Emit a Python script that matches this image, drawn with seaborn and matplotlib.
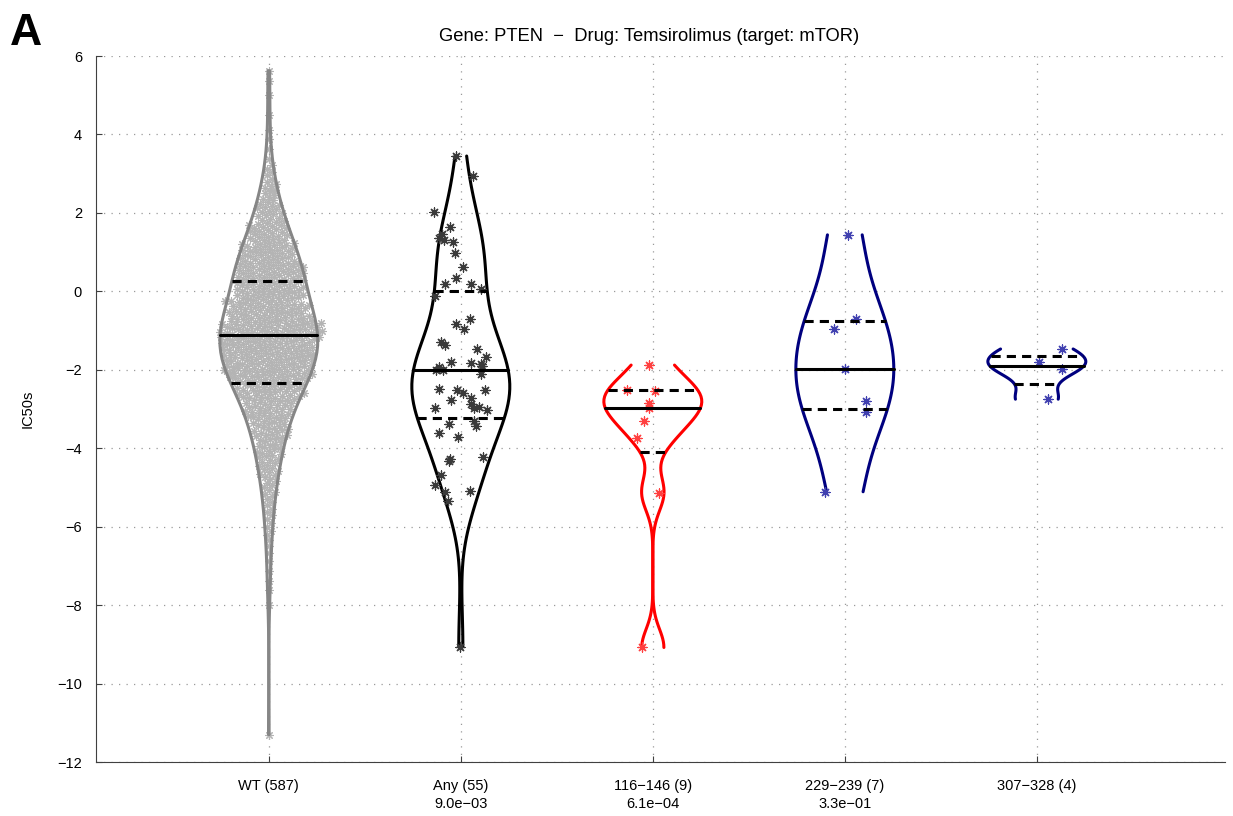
import numpy as np
import pandas as pd
import matplotlib
matplotlib.use("Agg")
import matplotlib.pyplot as plt
import seaborn as sns

groups = ["WT", "Any", "116-146", "229-239", "307-328"]
tick_labels = ["WT (587)", "Any (55)\n9.0e\u221203", "116\u2212146 (9)\n6.1e\u221204",
               "229\u2212239 (7)\n3.3e\u221201", "307\u2212328 (4)"]
line_colors = ["#868686", "#000000", "#ff0000", "#00007f", "#00007f"]
point_colors = ["#b4b4b4", "#3a3a3a", "#ff4040", "#4040b0", "#4040b0"]

# WT cloud is too dense to read point by point: counts per 0.5-wide bin
wt_bin_centres = [-11.3, -8.0, -7.5, -7.0, -6.5, -6.0, -5.5, -5.0, -4.5, -4.0, -3.5, -3.0,
                  -2.5, -2.0, -1.5, -1.0, -0.5, 0.0, 0.5, 1.0, 1.5, 2.0, 2.5, 3.0, 3.5,
                  4.0, 4.5, 5.0, 5.5]
wt_bin_counts = [1, 1, 2, 2, 3, 5, 6, 9, 13, 17, 23, 30,
                 42, 58, 62, 66, 52, 46, 45, 36, 26, 17, 11, 6, 2,
                 2, 1, 1, 2]

any_ic50 = [3.45, 2.95, 2.03, 1.63, 1.45, 1.35, 1.32, 1.27, 0.99, 0.63, 0.33, 0.18, 0.18, 0.06, -0.12,
            -0.71, -0.84, -0.97, -1.30, -1.37, -1.47, -1.68, -1.81, -1.82, -1.85, -1.90, -1.92, -2.01,
            -2.01, -2.12, -2.49, -2.52, -2.52, -2.60, -2.73, -2.77, -2.86, -2.94, -2.97, -2.98, -3.03,
            -3.31, -3.39, -3.43, -3.62, -3.71, -4.22, -4.28, -4.33, -4.68, -4.94, -5.09, -5.12, -5.34,
            -9.06]
r116_146 = [-1.88, -2.52, -2.53, -2.84, -2.98, -3.31, -3.75, -5.13, -9.08]
r229_239 = [1.44, -0.70, -0.97, -1.99, -2.80, -3.07, -5.11]
r307_328 = [-1.47, -1.81, -1.98, -2.75]

# spread each WT bin's count evenly across the bin
wt_ic50 = np.concatenate([c + (np.arange(n) + 0.5) / n * 0.5 - 0.25
                          for c, n in zip(wt_bin_centres, wt_bin_counts)])

values = [wt_ic50, any_ic50, r116_146, r229_239, r307_328]
df = pd.concat([pd.DataFrame({"group": g, "ic50": v}) for g, v in zip(groups, values)],
               ignore_index=True)

sns.set_style("ticks")
plt.rcParams['font.family'] = ['Liberation Sans', 'DejaVu Sans']
plt.rcParams['font.size'] = 10
for k in ['text.color', 'axes.labelcolor', 'xtick.color', 'ytick.color']:
    plt.rcParams[k] = 'black'

fig = plt.figure(figsize=(12.33, 8.16), dpi=100)
ax = fig.add_axes([96 / 1233, 1 - 762 / 816, (1225 - 96) / 1233, (762 - 56) / 816])

lw = 2.2
wt_points = None
for i, g in enumerate(groups):
    sub = df[df.group == g]
    v = sub.ic50.to_numpy()
    # matlab ksdensity default bandwidth (robust normal rule)
    sig = np.median(np.abs(v - np.median(v))) / 0.6745
    bw = sig * (4 / (3 * len(v))) ** 0.2
    n0 = len(ax.collections)
    sns.violinplot(data=sub, x="group", y="ic50", order=groups, ax=ax, fill=False, inner=None,
                   cut=0, density_norm="width", width=0.51, bw_method=bw / np.std(v, ddof=1),
                   color=line_colors[i], linewidth=lw)
    coll = ax.collections[n0]
    verts = coll.get_paths()[0].vertices
    coll.remove()
    left = verts[verts[:, 0] < i]
    right = verts[verts[:, 0] > i]
    left = left[np.argsort(left[:, 1])]
    right = right[np.argsort(right[:, 1])]
    # open-ended outline, like the original
    ax.plot(left[:, 0], left[:, 1], color=line_colors[i], lw=lw, zorder=3)
    ax.plot(right[:, 0], right[:, 1], color=line_colors[i], lw=lw, zorder=3)

    # points
    if g == "WT":
        n0 = len(ax.collections)
        sns.swarmplot(data=sub, x="group", y="ic50", order=groups, ax=ax, color=point_colors[i],
                      size=3.1, marker=(8, 2, 0), linewidth=0.8, zorder=2)
        wt_points = ax.collections[n0]
    else:
        np.random.seed(i)
        sns.stripplot(data=sub, x="group", y="ic50", order=groups, ax=ax, color=point_colors[i],
                      jitter=0.14, size=6.5, marker=(8, 2, 0), linewidth=0.9, zorder=4)

    # median solid, quartiles dashed (matlab-style percentiles)
    qs = np.percentile(v, [25, 50, 75], method="hazen")
    for k, q in enumerate(qs):
        xl = np.interp(q, left[:, 1], left[:, 0])
        xr = np.interp(q, right[:, 1], right[:, 0])
        if k == 1:
            ax.plot([xl, xr], [q, q], color="black", lw=lw, zorder=5)
        else:
            ax.plot([xl, xr], [q, q], color="black", lw=lw, dashes=(3, 2), zorder=5)

ax.set_xlim(-0.9, 4.98)
ax.set_ylim(-12, 6)
ax.set_yticks(np.arange(-12, 7, 2))
ax.set_xticks(range(len(groups)))
ax.set_xticklabels(tick_labels, linespacing=1.35)
ax.set_xlabel("")
ax.set_ylabel("IC50s", fontsize=10.5, labelpad=16)
ax.set_title("Gene: PTEN  \u2212  Drug: Temsirolimus (target: mTOR)", fontsize=13.2, pad=11, x=0.49)

ax.grid(True, linestyle=(0, (1, 5)), color="#9a9a9a", lw=0.9)
ax.set_axisbelow(True)
ax.tick_params(direction="in", length=4, width=0.8, color="#404040", labelsize=10.5)
ax.tick_params(axis="x", pad=12)
ax.tick_params(axis="y", pad=10)
for s in ["top", "right"]:
    ax.spines[s].set_visible(False)
for s in ["left", "bottom"]:
    ax.spines[s].set_color("#404040")
    ax.spines[s].set_linewidth(0.8)

fig.text(10 / 1233, 1 - 45 / 816, "A", fontsize=32, fontweight="bold", va="baseline", ha="left",
         color="black")

# lay out the WT swarm with small markers, then freeze it and draw bigger overlapping asterisks
fig.canvas.draw()
if "draw" in vars(wt_points):
    del wt_points.draw
wt_points.set_sizes([5.5 ** 2])

plt.savefig("out.png", dpi=100)
